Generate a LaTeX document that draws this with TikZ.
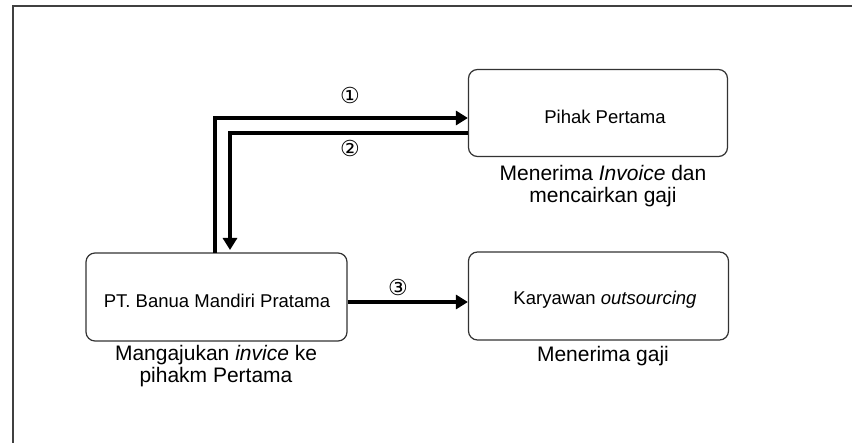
\documentclass[tikz,border=0pt]{standalone}
\usepackage{fontspec}
\setmainfont{Liberation Sans}
\newfontfamily\symfont{DejaVu Sans}
\usetikzlibrary{arrows.meta}
\begin{document}
\begin{tikzpicture}[x=1pt,y=-1pt,
  box/.style={draw=black!80,line width=1.2pt,rounded corners=9pt,inner sep=0pt},
  boxtext/.style={font=\fontsize{18.5}{22}\selectfont},
  note/.style={font=\fontsize{21}{22.5}\selectfont,align=center,inner sep=0pt},
  num/.style={font=\symfont\fontsize{22}{24}\selectfont,inner sep=0pt},
  flow/.style={line width=3.2pt,-{Triangle[length=12pt,width=14pt]}}]
\useasboundingbox (0,0) rectangle (852,443);
\draw[line width=2pt,black!75] (12.5,443) -- (12.5,6.5) -- (852,6.5);
% boxes
\node[box,minimum width=259pt,minimum height=87pt] (pihak) at (598,113) {};
\node[boxtext] at (605,117) {Pihak Pertama};
\node[box,minimum width=260pt,minimum height=88pt] (kary) at (598.5,296) {};
\node[boxtext] at (605,300) {Karyawan \textit{outsourcing}};
\node[box,minimum width=261pt,minimum height=88pt] (pt) at (216.5,297) {};
\node[boxtext] at (217,301) {PT. Banua Mandiri Pratama};
% notes
\node[note] (n1) at (603,186) {Menerima \textit{Invoice} dan\\mencairkan gaji};
\node[note] (n2) at (603,356) {Menerima gaji};
\node[note] (n3) at (216,366) {Mangajukan \textit{invice} ke\\pihakm Pertama};
% arrows
\coordinate (a1) at (215,253);
\coordinate (a2) at (230,250);
\draw[flow] (a1) -- (215,118) -- (pihak.west |- 0,118);
\draw[flow] (pihak.west |- 0,133) -- (230,133) -- (a2);
\draw[flow] (pt.east |- 0,302) -- (kary.west |- 0,302);
% numbers
\node[num] (c1) at (350,95) {①};
\node[num] (c2) at (350,148) {②};
\node[num] (c3) at (398,287) {③};
\end{tikzpicture}
\end{document}
